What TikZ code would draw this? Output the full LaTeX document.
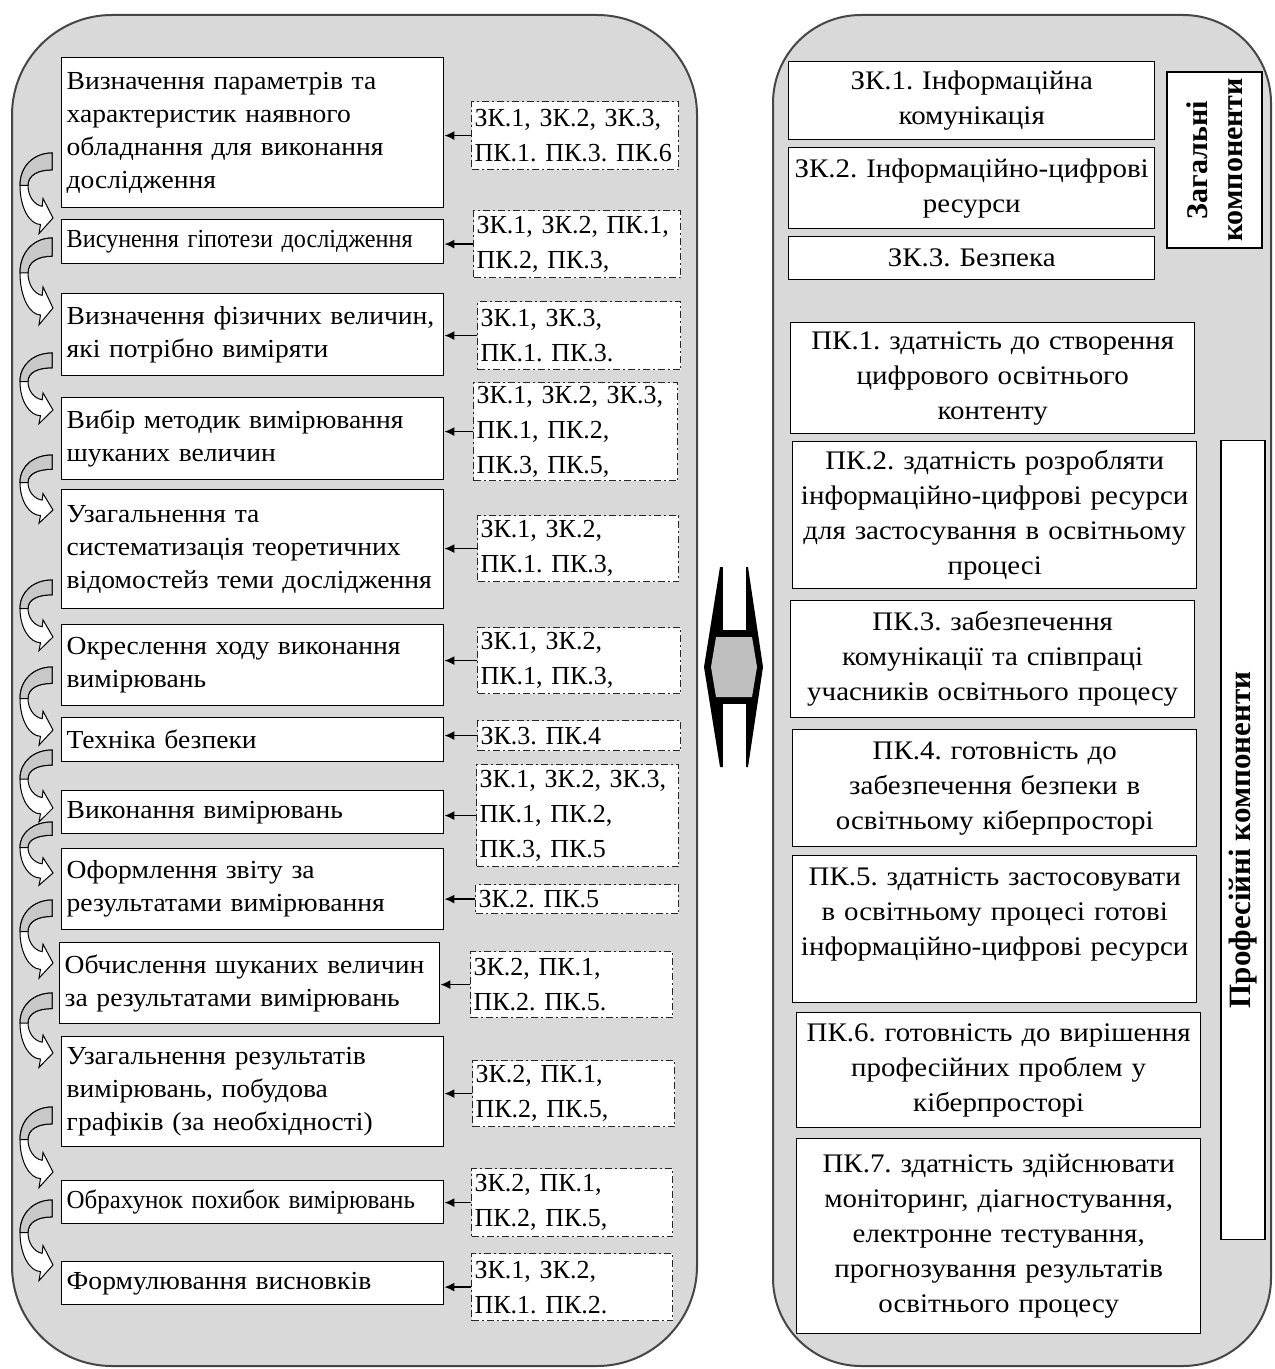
\documentclass[tikz,border=0pt]{standalone}
\usepackage{fontspec}
\setmainfont{Liberation Serif}
\newfontfamily\lfont{Liberation Serif}[FakeStretch=1.06]
\newfontfamily\rfont{Liberation Serif}[FakeStretch=1.08]
\newfontfamily\cfont{Liberation Serif}[FakeStretch=0.93]
\newfontfamily\cfontb{Liberation Serif}[FakeStretch=0.96]
\usetikzlibrary{arrows.meta}
\definecolor{panelgray}{RGB}{217,217,217}
\definecolor{arrgray}{RGB}{200,200,200}
\definecolor{hexgray}{RGB}{191,191,191}
\definecolor{edgegray}{RGB}{70,70,70}
\frenchspacing
\begin{document}
\begin{tikzpicture}[x=0.5pt,y=-0.5pt,
  panel/.style={draw=edgegray, line width=1pt, fill=panelgray},
  lbox/.style={draw=black, line width=0.7pt, fill=white, anchor=north west, align=left,
    inner xsep=2.5pt, inner ysep=1pt, text width=186pt, font=\lfont\fontsize{13}{16.5}\selectfont},
  dbox/.style={draw=black!85, line width=0.6pt, dash pattern=on 3.5pt off 1.5pt on 1pt off 1.5pt,
    fill=white, anchor=north west, align=left, inner xsep=1.5pt, inner ysep=0.5pt,
    font=\fontsize{13}{17.5}\selectfont},
  rbox/.style={draw=black, line width=0.7pt, fill=white, anchor=north west, align=center,
    inner xsep=2pt, inner ysep=1pt, font=\rfont\fontsize{13.4}{17.5}\selectfont},
  vbox/.style={draw=black, line width=0.7pt, fill=white, align=center, inner sep=0pt, rotate=90},
  conn/.style={line width=0.8pt, -{Latex[length=5pt,width=4.5pt]}},
  pics/carr/.style={code={
    \draw[line width=0.5pt, fill=white]
      (0,0) .. controls (-18,0) and (-32,{0.2*#1}) .. (-32,{0.5*#1})
      .. controls (-32,{0.85*#1}) and (-22,{1.1*#1}) .. (-11.5,{1.1*#1})
      -- (-13,{1.24*#1}) -- (1,{#1}) -- (-9,{0.7*#1}) -- (-9.8,{0.82*#1})
      .. controls (-18,{0.8*#1}) and (-24,{0.66*#1}) .. (-24,{0.5*#1})
      .. controls (-24,{0.34*#1}) and (-14,{0.26*#1}) .. (0,{0.26*#1}) -- cycle;
    \draw[line width=0.5pt, fill=arrgray]
      (0,0) .. controls (-18,0) and (-32,{0.2*#1}) .. (-32,{0.5*#1})
      -- (-24,{0.5*#1})
      .. controls (-24,{0.34*#1}) and (-14,{0.26*#1}) .. (0,{0.26*#1}) -- cycle;
  }}
]
\useasboundingbox (0,0) rectangle (1274,1369);
\fill[white] (0,0) rectangle (1274,1369);

% panels
\draw[panel, rounded corners=50pt] (12,15) rectangle (697,1366);
\draw[panel, rounded corners=44pt] (773,15) rectangle (1271,1366);

% left solid boxes
\node[lbox, minimum height=75pt] (b1) at (61,57) {Визначення параметрів та\\характеристик наявного\\обладнання для виконання\\дослідження};
\node[lbox, minimum height=22pt, font=\cfont\fontsize{13}{16.5}\selectfont] (b2) at (61,219) {Висунення гіпотези дослідження};
\node[lbox, minimum height=41pt] (b3) at (61,293) {Визначення фізичних величин,\\які потрібно виміряти};
\node[lbox, minimum height=41pt] (b4) at (61,397) {Вибір методик вимірювання\\шуканих величин};
\node[lbox, minimum height=59.5pt] (b5) at (61,489) {Узагальнення та\\систематизація теоретичних\\відомостейз теми дослідження};
\node[lbox, minimum height=40.5pt] (b6) at (61,624) {Окреслення ходу виконання\\вимірювань};
\node[lbox, minimum height=22pt] (b7) at (61,717) {Техніка безпеки};
\node[lbox, minimum height=21.5pt] (b8) at (61,790) {Виконання вимірювань};
\node[lbox, minimum height=40.5pt] (b9) at (61,848) {Оформлення звіту за\\результатами вимірювання};
\node[lbox, minimum height=40.5pt, text width=185pt] (b10) at (59,942) {Обчислення шуканих величин\\за результатами вимірювань};
\node[lbox, minimum height=55pt] (b11) at (61,1036) {Узагальнення результатів\\вимірювань, побудова\\графіків (за необхідності)};
\node[lbox, minimum height=21.5pt, font=\cfontb\fontsize{13}{16.5}\selectfont] (b12) at (61,1180) {Обрахунок похибок вимірювань};
\node[lbox, minimum height=21.5pt] (b13) at (61,1261) {Формулювання висновків};

% dashed boxes
\node[dbox, text width=100.5pt, minimum height=34pt] (d1) at (471,101) {ЗК.1, ЗК.2, ЗК.3,\\ПК.1. ПК.3. ПК.6};
\node[dbox, text width=100.5pt, minimum height=33.5pt] (d2) at (473,210) {ЗК.1, ЗК.2, ПК.1,\\ПК.2, ПК.3,};
\node[dbox, text width=98.5pt, minimum height=34pt] (d3) at (477,301) {ЗК.1, ЗК.3,\\ПК.1. ПК.3.};
\node[dbox, text width=99pt, minimum height=49pt] (d4) at (473,382) {ЗК.1, ЗК.2, ЗК.3,\\ПК.1, ПК.2,\\ПК.3, ПК.5,};
\node[dbox, text width=97.5pt, minimum height=33pt] (d5) at (477,515) {ЗК.1, ЗК.2,\\ПК.1. ПК.3,};
\node[dbox, text width=98.5pt, minimum height=33pt] (d6) at (477,627) {ЗК.1, ЗК.2,\\ПК.1, ПК.3,};
\node[dbox, text width=98.5pt, minimum height=15pt] (d7) at (477,720) {ЗК.3. ПК.4};
\node[dbox, text width=98pt, minimum height=51pt] (d8) at (476,764) {ЗК.1, ЗК.2, ЗК.3,\\ПК.1, ПК.2,\\ПК.3, ПК.5};
\node[dbox, text width=98.5pt, minimum height=14.5pt] (d9) at (475,884) {ЗК.2. ПК.5};
\node[dbox, text width=98pt, minimum height=33pt] (d10) at (470,951) {ЗК.2, ПК.1,\\ПК.2. ПК.5.};
\node[dbox, text width=98pt, minimum height=33pt] (d11) at (472,1060) {ЗК.2, ПК.1,\\ПК.2, ПК.5,};
\node[dbox, text width=97.5pt, minimum height=34pt] (d12) at (471,1168) {ЗК.2, ПК.1,\\ПК.2, ПК.5,};
\node[dbox, text width=97.5pt, minimum height=33.5pt] (d13) at (471,1253) {ЗК.1, ЗК.2,\\ПК.1. ПК.2.};

% connectors
\foreach \i in {1,...,13}{
  \draw[conn] (d\i.west) -- (d\i.west -| b\i.east);
}

% curved step arrows
\pic at (52,153) {carr=65};
\pic at (52,238) {carr=70};
\pic at (52,353) {carr=57};
\pic at (52,455) {carr=55};
\pic at (52,580) {carr=57};
\pic at (52,667) {carr=63};
\pic at (52,750) {carr=58};
\pic at (52,822) {carr=51};
\pic at (52,900) {carr=63};
\pic at (52,993) {carr=60};
\pic at (52,1107) {carr=65};
\pic at (52,1200) {carr=65};

% middle double arrow
\fill[black] (720,567) -- (748,567) -- (763,667) -- (748,767) -- (720,767) -- (704,667) -- cycle;
\fill[white] (722.5,560) rectangle (745.5,630);
\fill[white] (722.5,704) rectangle (745.5,775);
\fill[hexgray] (716,637) -- (752,637) -- (757,667) -- (752,697) -- (716,697) -- (711,667) -- cycle;

% right boxes
\node[rbox, text width=179pt, minimum height=39pt] (r1) at (788,61) {ЗК.1. Інформаційна\\комунікація};
\node[rbox, text width=179pt, minimum height=40.5pt] (r2) at (788,147) {ЗК.2. Інформаційно-цифрові\\ресурси};
\node[rbox, text width=179pt, minimum height=21.5pt] (r3) at (788,236) {ЗК.3. Безпека};
\node[rbox, text width=198pt, minimum height=55.5pt] (r4) at (790,322) {ПК.1. здатність до створення\\цифрового освітнього\\контенту};
\node[rbox, text width=198pt, minimum height=73.5pt] (r5) at (792,441) {ПК.2. здатність розробляти\\інформаційно-цифрові ресурси\\для застосування в освітньому\\процесі};
\node[rbox, text width=198pt, minimum height=58.5pt] (r6) at (790,600) {ПК.3. забезпечення\\комунікації та співпраці\\учасників освітнього процесу};
\node[rbox, text width=198pt, minimum height=58.5pt] (r7) at (792,729) {ПК.4. готовність до\\забезпечення безпеки в\\освітньому кіберпросторі};
\node[rbox, text width=198pt, minimum height=73.5pt] (r8) at (792,855) {ПК.5. здатність застосовувати\\в освітньому процесі готові\\інформаційно-цифрові ресурси\\\mbox{}};
\node[rbox, text width=198pt, minimum height=57.5pt] (r9) at (796,1012) {ПК.6. готовність до вирішення\\професійних проблем у\\кіберпросторі};
\node[rbox, text width=198pt, minimum height=97.5pt] (r10) at (796,1138) {ПК.7. здатність здійснювати\\моніторинг, діагностування,\\електронне тестування,\\прогнозування результатів\\освітнього процесу};

% vertical labels
\node[vbox, minimum width=88pt, minimum height=47.5pt, font=\bfseries\fontsize{15}{17.5}\selectfont] (zag) at (1214.5,160) {Загальні\\компоненти};
\node[vbox, minimum width=399.5pt, minimum height=22pt, font=\bfseries\fontsize{15.5}{18}\selectfont] (prof) at (1243,840) {Професійні компоненти};
\end{tikzpicture}
\end{document}
